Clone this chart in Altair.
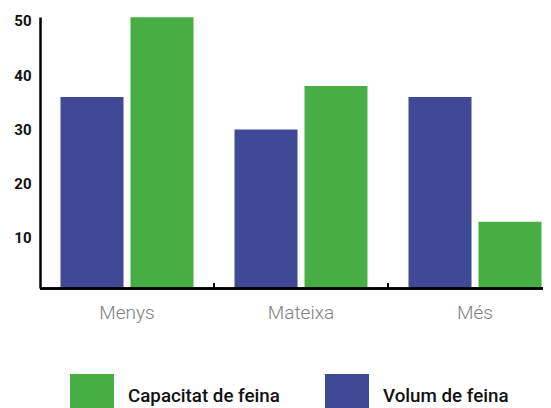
import altair as alt
import pandas as pd

categories = ["Menys", "Mateixa", "Més"]
series = ["Volum de feina", "Capacitat de feina"]
volum = [36, 30, 36]
capacitat = [50.7, 38, 13]
y_ticks = [10, 20, 30, 40, 50]
tick_cats = ["Mateixa", "Més"]

GREEN = "#47ae44"
BLUE = "#404996"

PLOT_W = 503   # visible plot width (page must stay within 551px incl. 8px margins)
PLOT_H = 271

rows = []
for c, v, k in zip(categories, volum, capacitat):
    rows.append({"category": c, "series": series[0], "value": v})
    rows.append({"category": c, "series": series[1], "value": k})
df = pd.DataFrame(rows)
ticks_df = pd.DataFrame({"category": tick_cats})

# 174px bands starting at the y axis; the last band runs past the visible edge
x_scale = alt.Scale(domain=categories, range=[0, 522], paddingInner=0, paddingOuter=0)

bars = alt.Chart(df).mark_bar(clip=True).encode(
    x=alt.X("category:N", scale=x_scale, title=None,
            axis=alt.Axis(domain=False, ticks=False, tickSize=0, labelAngle=0,
                          labelFont="Roboto", labelFontWeight=300, labelFontSize=19,
                          labelColor="#808080", labelPadding=24, labelBaseline="middle")),
    xOffset=alt.XOffset("series:N", sort=series,
                        scale=alt.Scale(paddingInner=0.1, paddingOuter=0.293)),
    y=alt.Y("value:Q", scale=alt.Scale(domain=[0.78, 50.73], nice=False, zero=False),
            title=None,
            axis=alt.Axis(values=y_ticks, grid=False, ticks=False, tickSize=0,
                          labelFont="Roboto", labelFontWeight="bold", labelFontSize=15,
                          labelColor="#111111", labelPadding=9,
                          domainColor="black", domainWidth=2.5)),
    color=alt.Color("series:N",
                    scale=alt.Scale(domain=["Capacitat de feina", "Volum de feina"],
                                    range=[GREEN, BLUE]),
                    legend=alt.Legend(title=None, orient="none", legendX=30, legendY=357,
                                      direction="horizontal", symbolType="square",
                                      symbolSize=1936, symbolStrokeWidth=0,
                                      labelFont="Roboto", labelFontWeight=500,
                                      labelFontSize=18.75, labelColor="#111111",
                                      labelOffset=14, columnPadding=45, padding=0,
                                      labelLimit=300)),
)

baseline = alt.Chart(ticks_df).mark_rule(color="black", strokeWidth=2.7).encode(
    x=alt.value(0), x2=alt.value(PLOT_W), y=alt.value(PLOT_H + 0.5),
)

tick_marks = alt.Chart(ticks_df).mark_rule(color="black", strokeWidth=2).encode(
    x=alt.X("category:N", bandPosition=0, scale=x_scale),
    y=alt.value(PLOT_H),
    y2=alt.value(PLOT_H - 5),
)

chart = alt.layer(bars, baseline, tick_marks).properties(
    width=PLOT_W, height=PLOT_H,
    autosize=alt.AutoSizeParams(type="none"),
    padding={"left": 32, "top": 9, "right": 0, "bottom": 120},
).configure_view(stroke=None)

chart.save("out.html", embed_options={"renderer": "svg", "actions": False})
